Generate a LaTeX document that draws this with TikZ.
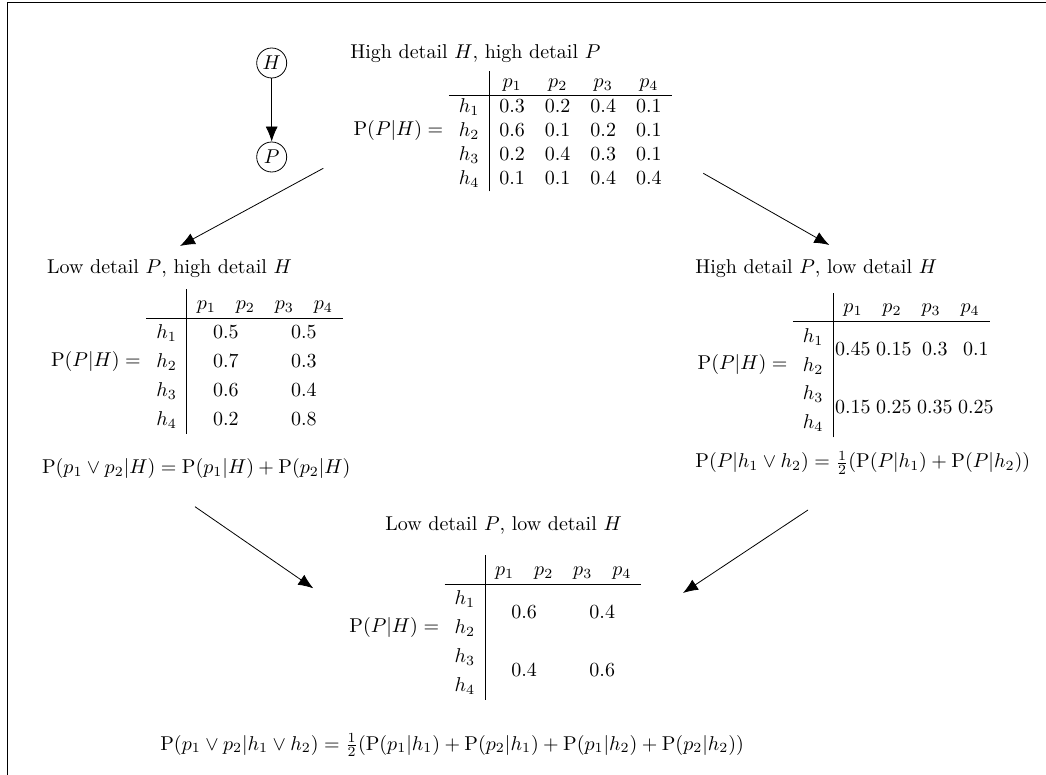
\documentclass[tikz,border=0pt]{standalone}
\usetikzlibrary{arrows.meta}
% one value of the merged-row table, centred in a fixed slot
\newcommand{\valslot}[1]{\makebox[17.8pt]{#1}}
\newcommand{\valgap}{\hspace{2.7pt}}
\begin{document}
\begin{tikzpicture}[x=0.5pt,y=-0.5pt,
  var/.style={circle,draw,inner sep=1pt,minimum size=15pt},
  link/.style={-{Latex[length=7.5pt,width=6pt]}},
  heading/.style={anchor=base west,inner sep=0pt},
  cpt/.style={inner sep=0pt,anchor=east},
  eqn/.style={anchor=base west,inner sep=0pt}]
\useasboundingbox (0,0) rectangle (1046,775);
% frame edges
\draw (1046,2.7) -- (7.3,2.7) -- (7.3,775);

% the two-variable network
\node[var] (H) at (271.7,63) {$H$};
\node[var] (P) at (271.7,157) {$P$};
\draw[link] (H) -- (P);

% high detail H, high detail P
\node[heading] (tTop) at (350,59) {High detail $H$, high detail $P$};
\node[cpt] (cptTop) at (672,131) {$\mathrm{P}(P|H) = \begin{array}{c|cccc}
 & p_1 & p_2 & p_3 & p_4\\\hline
 h_1 & 0.3 & 0.2 & 0.4 & 0.1\\
 h_2 & 0.6 & 0.1 & 0.2 & 0.1\\
 h_3 & 0.2 & 0.4 & 0.3 & 0.1\\
 h_4 & 0.1 & 0.1 & 0.4 & 0.4
\end{array}$};

% low detail P, high detail H
\node[heading] (tLeft) at (46.7,274) {Low detail $P$, high detail $H$};
\node[cpt] (cptLeft) at (343.3,361.5) {\renewcommand\arraystretch{1.2}%
$\mathrm{P}(P|H) = \begin{array}{c|cccc}
 & p_1 & p_2 & p_3 & p_4\\\hline
 h_1 & \multicolumn{2}{c}{0.5} & \multicolumn{2}{c}{0.5}\\
 h_2 & \multicolumn{2}{c}{0.7} & \multicolumn{2}{c}{0.3}\\
 h_3 & \multicolumn{2}{c}{0.6} & \multicolumn{2}{c}{0.4}\\
 h_4 & \multicolumn{2}{c}{0.2} & \multicolumn{2}{c}{0.8}
\end{array}$};
\node[eqn] (fLeft) at (41.7,474) {$\mathrm{P}(p_1 \vee p_2|H) = \mathrm{P}(p_1|H) + \mathrm{P}(p_2|H)$};

% high detail P, low detail H
\node[heading] (tRight) at (695,274) {High detail $P$, low detail $H$};
\node[cpt] (cptRight) at (990,365) {\renewcommand\arraystretch{1.2}%
$\mathrm{P}(P|H) = \begin{array}{c|cccc}
 & p_1 & p_2 & p_3 & p_4\\\hline
 \begin{array}{@{}c@{}} h_1\\ h_2 \end{array} &
   \multicolumn{4}{@{\hspace{0.8pt}}l@{}}{\rlap{\valslot{0.45}\valgap\valslot{0.15}\valgap\valslot{0.3}\valgap\valslot{0.1}}}\\
 \begin{array}{@{}c@{}} h_3\\ h_4 \end{array} &
   \multicolumn{4}{@{\hspace{0.8pt}}l@{}}{\rlap{\valslot{0.15}\valgap\valslot{0.25}\valgap\valslot{0.35}\valgap\valslot{0.25}}}
\end{array}$};
\node[eqn] (fRight) at (695,468) {$\mathrm{P}(P|h_1 \vee h_2) = \frac{1}{2}(\mathrm{P}(P|h_1) + \mathrm{P}(P|h_2))$};

% low detail P, low detail H
\node[heading] (tBottom) at (385,530.5) {Low detail $P$, low detail $H$};
\node[cpt] (cptBottom) at (641.7,627.5) {\renewcommand\arraystretch{1.2}%
$\mathrm{P}(P|H) = \begin{array}{c|cccc}
 & p_1 & p_2 & p_3 & p_4\\\hline
 \begin{array}{@{}c@{}} h_1\\ h_2 \end{array} & \multicolumn{2}{c}{0.6} & \multicolumn{2}{c}{0.4}\\
 \begin{array}{@{}c@{}} h_3\\ h_4 \end{array} & \multicolumn{2}{c}{0.4} & \multicolumn{2}{c}{0.6}
\end{array}$};
\node[eqn] (fBottom) at (160,750) {$\mathrm{P}(p_1 \vee p_2|h_1 \vee h_2) = \frac{1}{2}(\mathrm{P}(p_1|h_1) + \mathrm{P}(p_2|h_1) + \mathrm{P}(p_1|h_2) + \mathrm{P}(p_2|h_2))$};

% refinement arrows between the four levels of detail
\coordinate (a1s) at (323.3,168.3);
\coordinate (a1e) at (180,246);
\coordinate (a2s) at (703.3,173.3);
\coordinate (a2e) at (829.3,245);
\coordinate (a3s) at (195,506.7);
\coordinate (a3e) at (313.3,588.3);
\coordinate (a4s) at (808,510);
\coordinate (a4e) at (683,593);
\draw[link] (a1s) -- (a1e);
\draw[link] (a2s) -- (a2e);
\draw[link] (a3s) -- (a3e);
\draw[link] (a4s) -- (a4e);
\end{tikzpicture}
\end{document}
